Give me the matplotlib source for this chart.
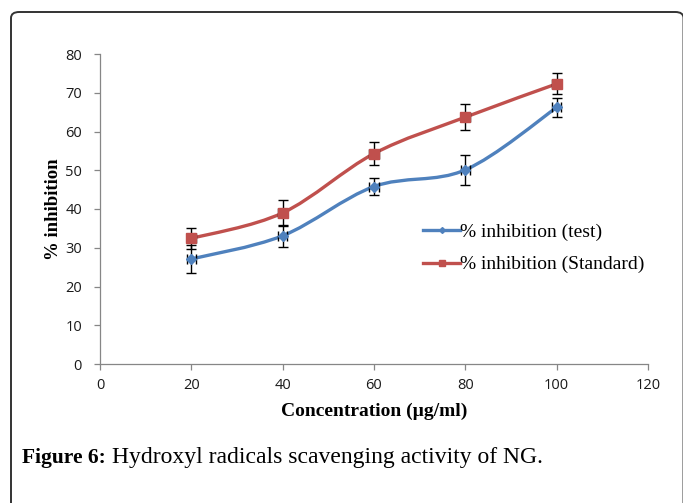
import numpy as np
import matplotlib
matplotlib.use("Agg")
import matplotlib.pyplot as plt
from matplotlib.path import Path
from matplotlib.patches import PathPatch, FancyBboxPatch
from matplotlib.lines import Line2D

conc = [20, 40, 60, 80, 100]
test = [27.1, 33.1, 45.8, 50.1, 66.2]
test_err = [3.7, 2.8, 2.3, 3.9, 2.4]
standard = [32.4, 39.0, 54.3, 63.7, 72.3]
standard_err = [2.8, 3.3, 3.0, 3.3, 2.7]
x_err = [1.0, 1.0, 1.0, 1.0, 1.0]

xticks = [0, 20, 40, 60, 80, 100, 120]
yticks = [0, 10, 20, 30, 40, 50, 60, 70, 80]

BLUE = "#4F81BD"
RED = "#C0504D"
GRAY = "#868686"


def smooth_path(xs, ys, t=1 / 6):
    # Excel-like smoothed line: cubic bezier through every data point
    pts = np.column_stack([xs, ys]).astype(float)
    n = len(pts)
    verts = [pts[0]]
    codes = [Path.MOVETO]
    for i in range(n - 1):
        p0 = pts[i - 1] if i > 0 else pts[i]
        p1, p2 = pts[i], pts[i + 1]
        p3 = pts[i + 2] if i + 2 < n else pts[i + 1]
        c1 = p1 + (p2 - p0) * t
        c2 = p2 - (p3 - p1) * t
        verts += [c1, c2, p2]
        codes += [Path.CURVE4] * 3
    return Path(verts, codes)


fig = plt.figure(figsize=(6.83, 5.03), dpi=100)
ax = fig.add_axes([100 / 683, 139 / 503, 548 / 683, 310 / 503])

for ys, err, color, marker, ms in [(test, test_err, BLUE, "D", 5),
                                    (standard, standard_err, RED, "s", 7.5)]:
    ax.add_patch(PathPatch(smooth_path(conc, ys), fill=False,
                           edgecolor=color, lw=2.4, zorder=3))
    ax.errorbar(conc, ys, yerr=err, xerr=x_err, fmt="none", ecolor="black",
                elinewidth=1.0, capsize=3.5, capthick=1.0, zorder=4)
    ax.plot(conc, ys, linestyle="none", marker=marker, ms=ms,
            color=color, zorder=5)

ax.set_xlim(0, 120)
ax.set_ylim(0, 80)
ax.set_xticks(xticks)
ax.set_yticks(yticks)
for side in ["top", "right"]:
    ax.spines[side].set_visible(False)
for side in ["left", "bottom"]:
    ax.spines[side].set_color(GRAY)
    ax.spines[side].set_linewidth(0.9)
ax.tick_params(direction="out", length=4, color=GRAY, width=0.9,
               labelsize=10.5, labelcolor="#1a1a1a")
ax.tick_params(axis="x", pad=6)
ax.tick_params(axis="y", pad=9)
for lab in ax.get_xticklabels() + ax.get_yticklabels():
    lab.set_family("Open Sans")

ax.set_xlabel("Concentration (\u00b5g/ml)", family="Liberation Serif",
              fontweight="bold", fontsize=14, labelpad=7)
ax.set_ylabel("% inhibition", family="Liberation Serif",
              fontweight="bold", fontsize=13.5, labelpad=2)

handles = [Line2D([], [], color=BLUE, lw=2.4, marker="D", ms=3),
           Line2D([], [], color=RED, lw=2.4, marker="s", ms=5)]
ax.legend(handles, ["% inhibition (test)", "% inhibition (Standard)"],
          loc="upper left", bbox_to_anchor=(0.576, 0.48), frameon=False,
          prop={"family": "Liberation Serif", "size": 14},
          handlelength=1.9, handletextpad=0.0, labelspacing=0.78,
          borderaxespad=0)

# rounded frame around the figure (right edge sits on the image border)
frame = FancyBboxPatch((11 / 683, -0.2), 672.5 / 683, 1.2 - 12 / 503,
                       boxstyle="round,pad=0,rounding_size=0.012",
                       transform=fig.transFigure, fill=False,
                       edgecolor="#333333", lw=1.4)
fig.patches.append(frame)

fig.text(22 / 683, 1 - 458 / 503, "Figure 6:", family="Liberation Serif",
         fontweight="bold", fontsize=15.5, va="center")
fig.text(112 / 683, 1 - 458 / 503,
         "Hydroxyl radicals scavenging activity of NG.",
         family="Liberation Serif", fontsize=17, va="center")

fig.savefig("out.png", dpi=100)
